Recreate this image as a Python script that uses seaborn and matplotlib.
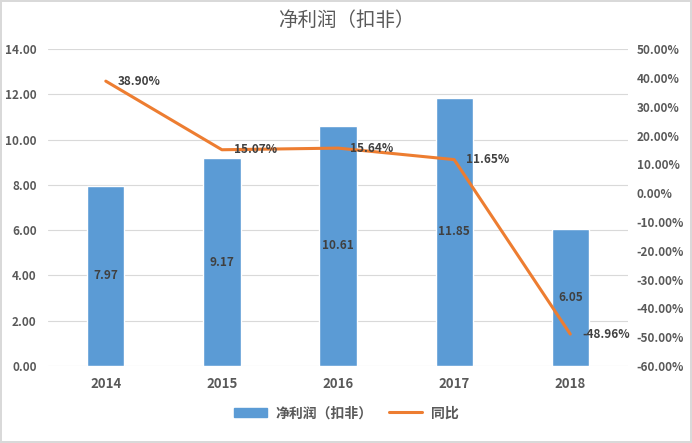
import matplotlib.pyplot as plt
import matplotlib.patches as mpatches
import matplotlib.lines as mlines
from matplotlib.ticker import FuncFormatter
import seaborn as sns
import pandas as pd

years = ["2014", "2015", "2016", "2017", "2018"]
profit = [7.97, 9.17, 10.61, 11.85, 6.05]
yoy = [38.90, 15.07, 15.64, 11.65, -48.96]

BAR_COLOR = "#5B9BD5"
LINE_COLOR = "#ED7D31"
TEXT_COLOR = "#595959"

sns.set_style("white")
plt.rcParams["font.family"] = ["Noto Sans CJK SC", "DejaVu Sans"]

df = pd.DataFrame({"year": years, "profit": profit, "yoy": yoy})

fig = plt.figure(figsize=(6.92, 4.43), dpi=100)
fig.patch.set_edgecolor("#D9D9D9")
fig.patch.set_linewidth(1.5)
ax = fig.add_axes([0.069, 0.174, 0.839, 0.715])

sns.barplot(data=df, x="year", y="profit", color=BAR_COLOR, width=0.32,
            saturation=1, ax=ax, zorder=2)
ax.set_xlim(-0.5, len(years) - 0.5)
ax.set_ylim(0, 14)
ax.set_yticks(range(0, 15, 2))
ax.yaxis.set_major_formatter(FuncFormatter(lambda v, p: f"{v:.2f}"))
ax.grid(axis="y", color="#D9D9D9", linewidth=0.8, zorder=0)
ax.set_axisbelow(True)
ax.set_xlabel("")
ax.set_ylabel("")
for s in ax.spines.values():
    s.set_visible(False)
ax.tick_params(length=0, labelsize=8.5, labelcolor=TEXT_COLOR, pad=8)
for lbl in ax.get_xticklabels() + ax.get_yticklabels():
    lbl.set_fontweight("bold")
ax.tick_params(axis="x", labelsize=9.5)

for i, v in enumerate(profit):
    ax.text(i, v / 2, f"{v:.2f}", ha="center", va="center", fontsize=8.5,
            fontweight="bold", color="#404040")

ax2 = ax.twinx()
sns.lineplot(data=df, x="year", y="yoy", sort=False, color=LINE_COLOR,
             linewidth=2.2, ax=ax2)
ax2.set_ylim(-60, 50)
ax2.set_yticks(range(-60, 51, 10))
ax2.yaxis.set_major_formatter(FuncFormatter(lambda v, p: f"{v:.2f}%"))
ax2.set_xlabel("")
ax2.set_ylabel("")
ax2.set_xlim(-0.5, len(years) - 0.5)
for s in ax2.spines.values():
    s.set_visible(False)
ax2.tick_params(length=0, labelsize=8.5, labelcolor=TEXT_COLOR, pad=6)
for lbl in ax2.get_yticklabels():
    lbl.set_fontweight("bold")

for i, v in enumerate(yoy):
    ax2.text(i + 0.1, v, f"{v:.2f}%", ha="left", va="center", fontsize=8.5,
             fontweight="bold", color="#404040")

fig.suptitle("净利润（扣非）", y=0.978, fontsize=14, color=TEXT_COLOR)

handles = [mpatches.Patch(color=BAR_COLOR, label="净利润（扣非）"),
           mlines.Line2D([], [], color=LINE_COLOR, linewidth=2.2, label="同比")]
leg = fig.legend(handles=handles, loc="center", bbox_to_anchor=(0.5, 0.067),
                 ncol=2, frameon=False, fontsize=10, handlelength=2.4,
                 handleheight=0.7, columnspacing=1.2, handletextpad=0.6)
for t in leg.get_texts():
    t.set_color(TEXT_COLOR)
    t.set_fontweight("bold")

fig.savefig("out.png", dpi=100)
